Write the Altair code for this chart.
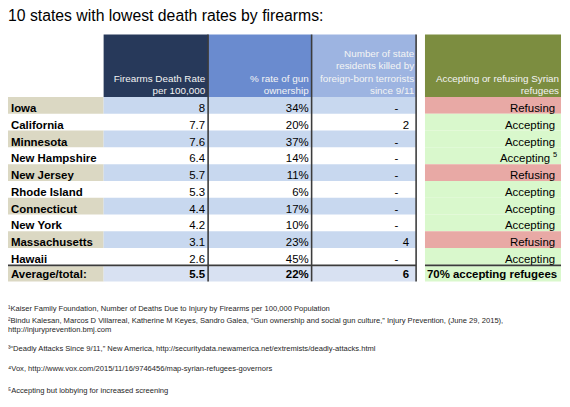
import altair as alt
import pandas as pd

# ---------------- data ----------------
title_text = "10 states with lowest death rates by firearms:"
states = ["Iowa", "California", "Minnesota", "New Hampshire", "New Jersey",
          "Rhode Island", "Connecticut", "New York", "Massachusetts", "Hawaii"]
death_rate = ["8", "7.7", "7.6", "6.4", "5.7", "5.3", "4.4", "4.2", "3.1", "2.6"]
gun_ownership = ["34%", "20%", "37%", "14%", "11%", "6%", "17%", "10%", "23%", "45%"]
killed_by_terrorists = ["-", "2", "-", "-", "-", "-", "-", "-", "4", "-"]
refugee_status = ["Refusing", "Accepting", "Accepting", "Accepting", "Refusing",
                  "Accepting", "Accepting", "Accepting", "Refusing", "Accepting"]
refugee_note = ["", "", "", "5", "", "", "", "", "", ""]
avg_label = "Average/total:"
avg_values = ["5.5", "22%", "6"]
avg_refugee = "70% accepting refugees"
header_lines = [
    ["Firearms Death Rate", "per 100,000"],
    ["% rate of gun", "ownership"],
    ["Number of state", "residents killed by", "foreign-born terrorists", "since 9/11"],
    ["Accepting or refusing Syrian", "refugees"],
]
footnotes = [
    "¹Kaiser Family Foundation, Number of Deaths Due to Injury by Firearms per 100,000 Population",
    "²Bindu Kalesan, Marcos D Villarreal, Katherine M Keyes, Sandro Galea, “Gun ownership and social gun culture,” Injury Prevention, (June 29, 2015),",
    "http://injuryprevention.bmj.com",
    "³“Deadly Attacks Since 9/11,” New America, http://securitydata.newamerica.net/extremists/deadly-attacks.html",
    "⁴Vox, http://www.vox.com/2015/11/16/9746456/map-syrian-refugees-governors",
    "⁵Accepting but lobbying for increased screening",
]

# ---------------- layout (style) ----------------
W, H = 562, 399
OFF = 8
FONT = "Liberation Sans"
BODY = 11.6
COLS = [(0, 105), (105, 211), (211, 316), (316, 422), (431, 569)]
HEAD_TOP, HEAD_BOT = 32, 95.5
ROW_H = 17
AVG_TOP, AVG_BOT = 267, 282.5
HEAD_FILL = ["#27395a", "#6a8bcf", "#9db4e1", "#7c8d40"]
BEIGE, BLUE, AVG_BLUE = "#dbd8c3", "#c8d8ef", "#d8e1f2"
RED, GREEN = "#e8a9a5", "#d9f8cc"
FOOT_Y = [310, 322, 331.5, 350, 371, 393]


def px(x):
    return max(x - OFF, 0)


def py(y):
    return y - OFF


rects = []
# header
for i, fill in enumerate(HEAD_FILL):
    l, r = COLS[i + 1]
    rects.append(dict(x=px(l), x2=px(r), y=py(HEAD_TOP), y2=py(HEAD_BOT), fill=fill))
# body rows
for i, st in enumerate(states):
    top = HEAD_BOT + i * ROW_H
    bot = top + ROW_H
    if i % 2 == 0:
        rects.append(dict(x=px(COLS[0][0]), x2=px(COLS[0][1]), y=py(top), y2=py(bot), fill=BEIGE))
        rects.append(dict(x=px(COLS[1][0]), x2=px(COLS[3][1]), y=py(top), y2=py(bot), fill=BLUE))
    rects.append(dict(x=px(COLS[4][0]), x2=px(COLS[4][1]), y=py(top), y2=py(bot),
                      fill=RED if refugee_status[i] == "Refusing" else GREEN))
# average row
rects.append(dict(x=px(COLS[0][0]), x2=px(COLS[0][1]), y=py(AVG_TOP), y2=py(AVG_BOT), fill=BEIGE))
rects.append(dict(x=px(COLS[1][0]), x2=px(COLS[3][1]), y=py(AVG_TOP), y2=py(AVG_BOT), fill=AVG_BLUE))
rects.append(dict(x=px(COLS[4][0]), x2=px(COLS[4][1]), y=py(AVG_TOP), y2=py(AVG_BOT), fill=GREEN))
rect_df = pd.DataFrame(rects)

xs = alt.Scale(domain=[0, W], range=[0, W], nice=False, zero=False)
ys = alt.Scale(domain=[0, H], range=[0, H], nice=False, zero=False)

base_rect = alt.Chart(rect_df).mark_rect(strokeWidth=0).encode(
    x=alt.X("x:Q", scale=xs, axis=None), x2="x2:Q",
    y=alt.Y("y:Q", scale=ys, axis=None), y2="y2:Q",
    color=alt.Color("fill:N", scale=None),
)

# rules
vrules = pd.DataFrame([dict(x=px(COLS[c][1]), y=py(HEAD_TOP), y2=py(AVG_BOT)) for c in (1, 2, 3)])
vrule_layer = alt.Chart(vrules).mark_rule(color="#3c3c3c", strokeWidth=1.6).encode(
    x=alt.X("x:Q", scale=xs, axis=None), y=alt.Y("y:Q", scale=ys, axis=None), y2="y2:Q")
line_y = py(HEAD_BOT + len(states) * ROW_H + 0.8)
hrules = pd.DataFrame([
    dict(x=px(COLS[0][0]), x2=px(COLS[3][1]), y=line_y),
    dict(x=px(COLS[4][0]), x2=px(COLS[4][1]), y=line_y),
])
hrule_layer = alt.Chart(hrules).mark_rule(color="#3c3c3c", strokeWidth=1.8).encode(
    x=alt.X("x:Q", scale=xs, axis=None), x2="x2:Q", y=alt.Y("y:Q", scale=ys, axis=None))


def text_layer(rows, size, weight="normal", align="left", color="#000000"):
    df = pd.DataFrame(rows)
    return alt.Chart(df).mark_text(
        font=FONT, fontSize=size, fontWeight=weight, align=align,
        baseline="alphabetic", color=color,
    ).encode(
        x=alt.X("x:Q", scale=xs, axis=None),
        y=alt.Y("y:Q", scale=ys, axis=None),
        text="t:N",
    )


# title
title_layer = text_layer([dict(x=0, y=py(18.3), t=title_text)], 16)

# header lines
head_rows = []
head_pad = [3, 3, 2, 2]
for i, lines in enumerate(header_lines):
    r = COLS[i + 1][1] - head_pad[i]
    n = len(lines)
    for j, line in enumerate(lines):
        head_rows.append(dict(x=px(r), y=py(92 - (n - 1 - j) * 12.3), t=line))
head_layer = text_layer(head_rows, 10, align="right", color="#f4f4f4")

# body text
state_rows, num_rows, stat_rows, note_rows = [], [], [], []
for i, st in enumerate(states):
    base = HEAD_BOT + i * ROW_H + 15.2
    state_rows.append(dict(x=3, y=py(base), t=st))
    num_rows.append(dict(x=px(COLS[1][1] - 3), y=py(base), t=death_rate[i]))
    num_rows.append(dict(x=px(COLS[2][1] - 3), y=py(base), t=gun_ownership[i]))
    k = killed_by_terrorists[i]
    num_rows.append(dict(x=px(COLS[3][1] - (18 if k == "-" else 7)), y=py(base), t=k))
    has_note = refugee_note[i] != ""
    stat_rows.append(dict(x=px(COLS[4][1] - (11 if has_note else 6)), y=py(base), t=refugee_status[i]))
    if has_note:
        note_rows.append(dict(x=px(COLS[4][1] - 4), y=py(base - 5), t=refugee_note[i]))

state_layer = text_layer(state_rows, BODY, weight="bold")
num_layer = text_layer(num_rows, BODY, align="right")
stat_layer = text_layer(stat_rows, BODY, align="right")
note_layer = text_layer(note_rows, 7.5, align="right")

avg_base = py(AVG_TOP + 12.3)
avg_label_layer = text_layer([dict(x=3, y=avg_base, t=avg_label),
                              dict(x=px(COLS[4][0] + 2), y=avg_base, t=avg_refugee)], BODY, weight="bold")
avg_num_layer = text_layer([
    dict(x=px(COLS[1][1] - 3), y=avg_base, t=avg_values[0]),
    dict(x=px(COLS[2][1] - 3), y=avg_base, t=avg_values[1]),
    dict(x=px(COLS[3][1] - 7), y=avg_base, t=avg_values[2]),
], BODY, weight="bold", align="right")

foot_layer = text_layer([dict(x=0, y=py(FOOT_Y[i] + 2.6), t=f) for i, f in enumerate(footnotes)],
                        7.7, color="#262626")

chart = alt.layer(
    base_rect, vrule_layer, hrule_layer, title_layer, head_layer,
    state_layer, num_layer, stat_layer, note_layer,
    avg_label_layer, avg_num_layer, foot_layer,
).properties(
    width=W, height=H, padding=0, autosize=alt.AutoSizeParams(type="none"),
).configure_view(stroke=None)

chart.save("out.html", embed_options={"renderer": "svg", "actions": False})
